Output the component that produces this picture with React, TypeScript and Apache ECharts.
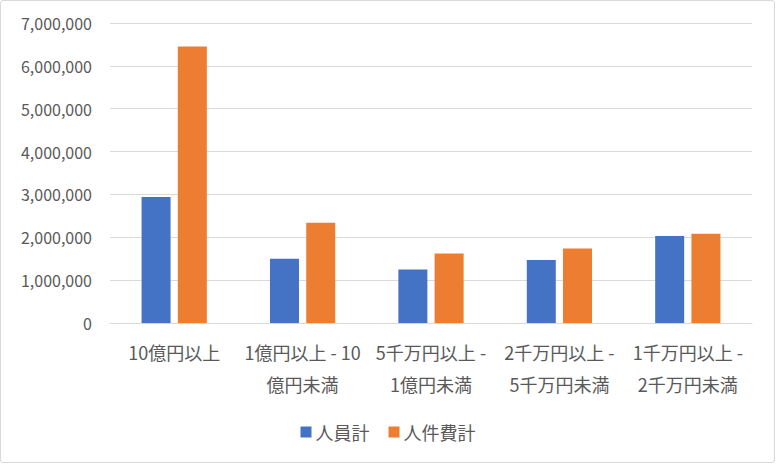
import React, { useEffect, useRef } from "react";
import * as echarts from "echarts";

const categories = [
  "10億円以上",
  "1億円以上 - 10\n億円未満",
  "5千万円以上 -\n1億円未満",
  "2千万円以上 -\n5千万円未満",
  "1千万円以上 -\n2千万円未満",
];
const staffTotal = [2940000, 1500000, 1250000, 1470000, 2030000];
const laborCostTotal = [6450000, 2340000, 1620000, 1740000, 2080000];
const seriesNames = ["人員計", "人件費計"];

const FONT = "'Noto Sans CJK JP', 'Noto Sans', sans-serif";

export default function App() {
  const ref = useRef<HTMLDivElement>(null);
  useEffect(() => {
    if (!ref.current) return;
    const chart = echarts.init(ref.current, undefined, { renderer: "svg" });
    chart.setOption({
      animation: false,
      textStyle: { fontFamily: FONT },
      grid: { left: 110, right: 24, top: 23, bottom: 141, containLabel: false },
      legend: {
        data: seriesNames,
        top: 418,
        left: "center",
        itemWidth: 11,
        itemHeight: 11,
        itemGap: 19,
        icon: "rect",
        textStyle: { color: "#595959", fontSize: 18, fontFamily: FONT, padding: [0, 0, 0, -1] },
      },
      xAxis: {
        type: "category",
        data: categories,
        axisLine: { show: true, lineStyle: { color: "#d9d9d9", width: 1 } },
        axisTick: { show: false },
        axisLabel: {
          color: "#595959",
          fontSize: 18,
          lineHeight: 32,
          margin: 13,
          interval: 0,
          fontFamily: FONT,
        },
      },
      yAxis: {
        type: "value",
        min: 0,
        max: 7000000,
        interval: 1000000,
        axisLine: { show: false },
        axisTick: { show: false },
        splitLine: { lineStyle: { color: "#d9d9d9", width: 1 } },
        axisLabel: {
          color: "#595959",
          fontSize: 16,
          margin: 18,
          fontFamily: FONT,
          formatter: (v: number) => v.toLocaleString("en-US"),
        },
      },
      series: [
        {
          name: seriesNames[0],
          type: "bar",
          data: staffTotal,
          barWidth: 29,
          barGap: "25%",
          itemStyle: { color: "#4472C4" },
        },
        {
          name: seriesNames[1],
          type: "bar",
          data: laborCostTotal,
          barWidth: 29,
          barGap: "25%",
          itemStyle: { color: "#ED7D31" },
        },
      ],
    });
    return () => chart.dispose();
  }, []);
  return (
    <div
      style={{
        position: "fixed",
        left: 0,
        top: 0,
        width: 776,
        height: 464,
        background: "#fff",
      }}
    >
      <div
        style={{
          position: "absolute",
          left: 0,
          top: 0,
          width: 775,
          height: 463,
          border: "1px solid #d9d9d9",
          borderRadius: 3,
          boxSizing: "border-box",
        }}
      />
      <div ref={ref} style={{ position: "absolute", left: 0, top: 0, width: 776, height: 464 }} />
    </div>
  );
}
